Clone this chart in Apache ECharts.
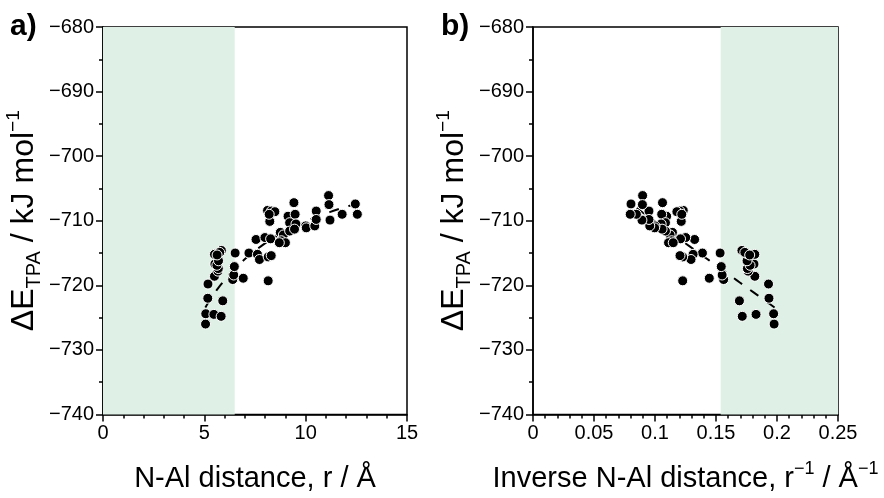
<!DOCTYPE html>
<html><head><meta charset="utf-8">
<script src="https://cdn.jsdelivr.net/npm/echarts@6/dist/echarts.min.js"></script>
<style>html,body{margin:0;padding:0;background:#fff}#c{width:884px;height:498px}</style>
</head><body><div id="c"></div>
<script>
// Data (N-Al distance r in Å, ΔE_TPA in kJ/mol)
const rVals = [
  5.06, 5.07, 5.47, 5.83, 5.17, 5.91, 5.18, 5.50, 5.67, 5.69, 5.52, 5.62, 5.70, 5.70, 5.50, 5.84, 5.76, 5.63,
  6.40, 6.45, 6.48, 6.52, 6.92,
  7.20, 7.62, 7.72, 8.15, 8.30, 8.15, 7.55, 7.99, 8.27, 8.75, 8.90, 8.80, 9.00, 8.70,
  8.12, 8.31, 8.48, 8.23, 8.20,
  9.13, 9.48, 9.21, 9.52, 9.21, 9.45, 9.42, 10.00, 10.03,
  10.45, 10.52, 10.52, 11.13, 11.15, 11.20, 11.80, 12.45, 12.55
];
const eVals = [
  -726.0, -724.4, -724.5, -724.8, -722.0, -722.4, -719.8, -718.6, -717.8, -717.4, -716.7, -716.9, -716.2, -715.1, -715.2, -714.6, -714.9, -715.3,
  -719.1, -718.4, -717.1, -715.0, -718.9,
  -715.0, -715.2, -716.0, -715.6, -715.4, -719.3, -712.9, -712.6, -712.8, -711.8, -712.2, -713.1, -713.4, -713.4,
  -708.4, -708.5, -708.6, -710.1, -709.0,
  -709.3, -709.0, -710.3, -710.5, -711.6, -711.3, -707.2, -710.8, -711.1,
  -710.8, -708.5, -709.8, -706.1, -707.5, -709.9, -709.0, -707.4, -709.0
];
// Linear fit E = fitA + fitB / r (dashed line)
const fitA = -696.5;
const fitB = -136;
const fitRange = [5.05, 12.6];
// Shaded region: r < 6.5 Å
const shadeR = 6.5;
// Axis ranges / ticks
const xTicksA = [0, 15, 5];
const xTicksB = [0, 0.25, 0.05];
const yTicks = [-740, -680, 10];

const ptsA = rVals.map((r, i) => [r, eVals[i]]);
const ptsB = rVals.map((r, i) => [1 / r, eVals[i]]);
const fitA_pts = [], fitB_pts = [];
for (let k = 0; k <= 80; k++) {
  const r = fitRange[0] + (fitRange[1] - fitRange[0]) * k / 80;
  const e = fitA + fitB / r;
  fitA_pts.push([r, e]);
  fitB_pts.push([1 / r, e]);
}

const FONT = 'Liberation Sans, Arial, sans-serif';
const axisCol = '#000';
const shade = '#dff1e6';

function xAxis(idx, t, name, rich) {
  return {
    gridIndex: idx, type: 'value', min: t[0], max: t[1], interval: t[2],
    axisLine: { show: true, onZero: false, lineStyle: { color: axisCol, width: 1.5 } },
    axisTick: { show: true, inside: false, length: 7, lineStyle: { color: axisCol, width: 1.5 } },
    minorTick: { show: true, splitNumber: 5, length: 4, lineStyle: { color: axisCol, width: 1.5 } },
    splitLine: { show: false },
    axisLabel: { color: '#000', fontSize: 20, fontFamily: FONT, margin: 9 },
    name: name, nameLocation: 'middle', nameGap: 46,
    nameTextStyle: { color: '#000', fontSize: 29, fontFamily: FONT, rich: rich }
  };
}
const yRich = {
  a: { fontSize: 32, fontFamily: FONT, color: '#000', lineHeight: 40, verticalAlign: 'middle' },
  s: { fontSize: 20, fontFamily: FONT, color: '#000', lineHeight: 40, verticalAlign: 'bottom' },
  p: { fontSize: 19, fontFamily: FONT, color: '#000', lineHeight: 40, verticalAlign: 'top' }
};
function yAxis(idx) {
  return {
    gridIndex: idx, type: 'value', min: yTicks[0], max: yTicks[1], interval: yTicks[2],
    axisLine: { show: true, onZero: false, lineStyle: { color: axisCol, width: 1.5 } },
    axisTick: { show: true, inside: false, length: 7, lineStyle: { color: axisCol, width: 1.5 } },
    minorTick: { show: true, splitNumber: 2, length: 4, lineStyle: { color: axisCol, width: 1.5 } },
    splitLine: { show: false },
    axisLabel: { color: '#000', fontSize: 20, fontFamily: FONT, margin: 9,
      formatter: v => String(v).replace('-', '\u2212') },
    name: '{a|\u0394E}{s|TPA}{a| / kJ mol}{p|\u22121}',
    nameLocation: 'middle', nameRotate: 90, nameGap: 59,
    nameTextStyle: { color: '#000', fontSize: 32, fontFamily: FONT, rich: yRich }
  };
}
const xRich = {
  a: { fontSize: 29, fontFamily: FONT, color: '#000', lineHeight: 36, verticalAlign: 'middle' },
  p: { fontSize: 18, fontFamily: FONT, color: '#000', lineHeight: 36, verticalAlign: 'top' }
};

const scatterStyle = { color: '#000', borderColor: '#fff', borderWidth: 1, opacity: 1 };
const option = {
  animation: false,
  backgroundColor: '#fff',
  grid: [
    { left: 103, right: 477, top: 27, bottom: 63, show: true, borderColor: '#000', borderWidth: 1.5, backgroundColor: 'transparent' },
    { left: 533, right: 46, top: 27, bottom: 63, show: true, borderColor: '#000', borderWidth: 1.5, backgroundColor: 'transparent' }
  ],
  xAxis: [
    xAxis(0, xTicksA, '{a|N-Al distance, r / \u00c5}', xRich),
    xAxis(1, xTicksB, '{a|Inverse N-Al distance, r}{p|\u22121}{a| / \u00c5}{p|\u22121}', xRich)
  ],
  yAxis: [yAxis(0), yAxis(1)],
  graphic: [
    { type: 'text', left: 10, top: 12, style: { text: 'a)', font: 'bold 30px ' + FONT, fill: '#000' } },
    { type: 'text', left: 441, top: 12, style: { text: 'b)', font: 'bold 30px ' + FONT, fill: '#000' } }
  ],
  series: [
    { type: 'line', xAxisIndex: 0, yAxisIndex: 0, data: [], z: 0, silent: true,
      markArea: { silent: true, itemStyle: { color: shade }, data: [[{ xAxis: 0 }, { xAxis: shadeR }]] } },
    { type: 'line', xAxisIndex: 1, yAxisIndex: 1, data: [], z: 0, silent: true,
      markArea: { silent: true, itemStyle: { color: shade }, data: [[{ xAxis: 1 / shadeR }, { xAxis: 0.25 }]] } },
    { type: 'line', xAxisIndex: 0, yAxisIndex: 0, data: fitA_pts, showSymbol: false, z: 2,
      lineStyle: { color: '#000', width: 2, type: [10, 10] } },
    { type: 'line', xAxisIndex: 1, yAxisIndex: 1, data: fitB_pts, showSymbol: false, z: 2,
      lineStyle: { color: '#000', width: 2, type: [10, 10] } },
    { type: 'scatter', xAxisIndex: 0, yAxisIndex: 0, data: ptsA, symbolSize: 10, z: 3, itemStyle: scatterStyle },
    { type: 'scatter', xAxisIndex: 1, yAxisIndex: 1, data: ptsB, symbolSize: 10, z: 3, itemStyle: scatterStyle }
  ]
};
const chart = echarts.init(document.getElementById('c'), null, { renderer: 'canvas' });
chart.setOption(option);
</script>
</body></html>
